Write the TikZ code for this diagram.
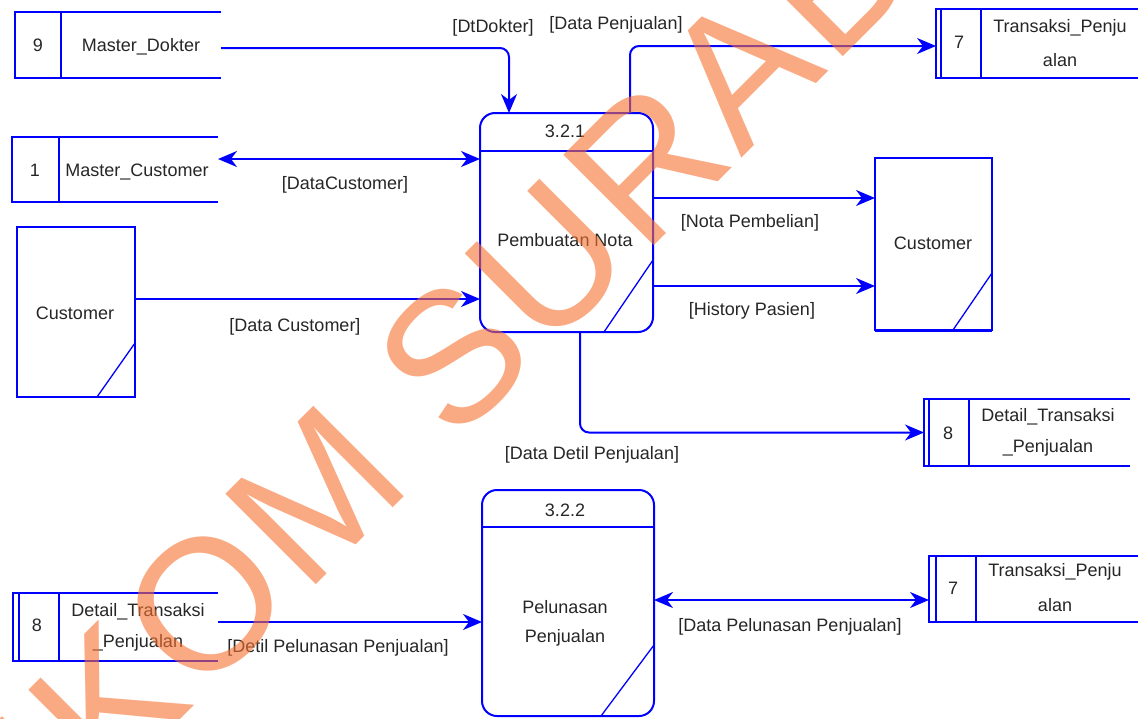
\documentclass[tikz,border=0pt]{standalone}
\usepackage{fontspec}
\setmainfont{Liberation Sans}
\newfontfamily\wmfont[LetterSpace=2.5]{Liberation Sans}
\usetikzlibrary{arrows.meta,calc}
\definecolor{dfd}{RGB}{0,0,255}
\definecolor{wmark}{RGB}{247,113,47}
\begin{document}
\begin{tikzpicture}[x=1pt,y=-1pt,
  every node/.style={font=\fontsize{18}{21}\selectfont, text=black!85, inner sep=0pt, outer sep=0pt},
  slot/.style={draw=none, minimum width=#1},
  edge/.style={draw=dfd, line width=2pt},
  thin edge/.style={draw=dfd, line width=1.3pt},
  procbox/.style={draw=dfd, line width=2pt, rounded corners=15pt},
  entbox/.style={draw=dfd, line width=2pt},
  tip/.tip={Stealth[length=19pt,width=16pt,inset=6pt]},
  flow/.style={edge, -tip},
  biflow/.style={edge, tip-tip},
  elbow/.style={rounded corners=9pt}
]
\useasboundingbox (0,0) rectangle (1138,718);

% ---------- processes ----------
\node[procbox, minimum width=173, minimum height=219] (p1) at (566.5,222.5) {};
\draw[edge] ($(p1.north west)+(0,38)$) -- ($(p1.north east)+(0,38)$);
\draw[thin edge] ($(p1.north east)+(0,147)$) -- ($(p1.south east)+(-49,0)$);
\node (p1id) at (565,131) {3.2.1};
\node (p1name) at (565,240) {Pembuatan Nota};

\node[procbox, minimum width=172, minimum height=226] (p2) at (568,603) {};
\draw[edge] ($(p2.north west)+(0,37)$) -- ($(p2.north east)+(0,37)$);
\draw[thin edge] ($(p2.north east)+(0,155)$) -- ($(p2.south east)+(-53,0)$);
\node (p2id) at (565,510) {3.2.2};
\node (p2a) at (565,607) {Pelunasan};
\node (p2b) at (565,638) {Penjualan};

% ---------- external entities ----------
\node[entbox, minimum width=118, minimum height=170] (cL) at (76,312) {};
\draw[thin edge] ($(cL.north east)+(0,116)$) -- ($(cL.south east)+(-38,0)$);
\node (cLt) at (75,313) {Customer};

\node[entbox, minimum width=117, minimum height=172] (cR) at (933.5,244) {};
\draw[thin edge] ($(cR.north east)+(0,115)$) -- ($(cR.south east)+(-39,0)$);
\draw[draw=dfd, line width=3.5pt] ($(cR.south west)+(0,0.5)$) -- ($(cR.south east)+(0,0.5)$);
\node (cRt) at (933,243) {Customer};

% ---------- data stores ----------
\node[slot=206, minimum height=66] (s9) at (118,45) {};
\draw[edge] (s9.north east) -- (s9.north west) -- (s9.south west) -- (s9.south east);
\draw[edge] ($(s9.north west)+(46,0)$) -- ($(s9.south west)+(46,0)$);
\node (s9n) at (38,45) {9};
\node (s9t) at (141,47) {Master\_Dokter};

\node[slot=206, minimum height=65] (s1) at (115,169.5) {};
\draw[edge] (s1.north east) -- (s1.north west) -- (s1.south west) -- (s1.south east);
\draw[edge] ($(s1.north west)+(47,0)$) -- ($(s1.south west)+(47,0)$);
\node (s1n) at (35,170) {1};
\node (s1t) at (137,172) {Master\_Customer};

\node[slot=209, minimum height=69] (s7a) at (1040.5,43.5) {};
\draw[edge] (s7a.north east) -- (s7a.north west) -- (s7a.south west) -- (s7a.south east);
\draw[edge] ($(s7a.north west)+(5,0)$) -- ($(s7a.south west)+(5,0)$);
\draw[edge] ($(s7a.north west)+(45,0)$) -- ($(s7a.south west)+(45,0)$);
\node (s7an) at (959,42) {7};
\node (s7at) at (1060,28) {Transaksi\_Penju};
\node (s7au) at (1060,60) {alan};

\node[slot=206, minimum height=67] (s8a) at (1027,432.5) {};
\draw[edge] (s8a.north east) -- (s8a.north west) -- (s8a.south west) -- (s8a.south east);
\draw[edge] ($(s8a.north west)+(5,0)$) -- ($(s8a.south west)+(5,0)$);
\draw[edge] ($(s8a.north west)+(45,0)$) -- ($(s8a.south west)+(45,0)$);
\node (s8an) at (948,433) {8};
\node (s8at) at (1048,417) {Detail\_Transaksi};
\node (s8au) at (1048,448) {\_Penjualan};

\node[slot=216, minimum height=66] (s7b) at (1037,589) {};
\draw[edge] (s7b.north east) -- (s7b.north west) -- (s7b.south west) -- (s7b.south east);
\draw[edge] ($(s7b.north west)+(7,0)$) -- ($(s7b.south west)+(7,0)$);
\draw[edge] ($(s7b.north west)+(47,0)$) -- ($(s7b.south west)+(47,0)$);
\node (s7bn) at (953,588) {7};
\node (s7bt) at (1055,572) {Transaksi\_Penju};
\node (s7bu) at (1055,605) {alan};

\node[slot=205, minimum height=68] (s8b) at (115.5,627) {};
\draw[edge] (s8b.north east) -- (s8b.north west) -- (s8b.south west) -- (s8b.south east);
\draw[edge] ($(s8b.north west)+(6,0)$) -- ($(s8b.south west)+(6,0)$);
\draw[edge] ($(s8b.north west)+(46,0)$) -- ($(s8b.south west)+(46,0)$);
\node (s8bn) at (37,625) {8};
\node (s8bt) at (138,612) {Detail\_Transaksi};
\node (s8bu) at (138,643) {\_Penjualan};

% ---------- data flows ----------
\draw[flow, elbow] ($(s9.east)+(0,3)$) -| ($(p1.north west)+(29,0)$);
\node (lDt) at (493,28) {[DtDokter]};

\draw[biflow] ($(s1.east)+(0,-10.5)$) -- ($(p1.north west)+(0,46)$);
\node (lDC) at (345,185) {[DataCustomer]};

\draw[flow] ($(cL.east)+(0,-13)$) -- ($(p1.north west)+(0,186)$);
\node (lDC2) at (295,327) {[Data Customer]};

\draw[flow, elbow] ($(p1.north west)+(150,0)$) |- ($(s7a.west)+(0,2.5)$);
\node (lDP) at (616,25) {[Data Penjualan]};

\draw[flow] ($(p1.north east)+(0,85)$) -- ($(cR.north west)+(0,40)$);
\node (lNP) at (750,223) {[Nota Pembelian]};

\draw[flow] ($(p1.north east)+(0,173)$) -- ($(cR.north west)+(0,128)$);
\node (lHP) at (752,311) {[History Pasien]};

\draw[flow, elbow] ($(p1.south west)+(100,0)$) |- (s8a.west);
\node (lDD) at (592,455) {[Data Detil Penjualan]};

\draw[flow] ($(s8b.east)+(0,-5)$) -- ($(p2.north west)+(0,132)$);
\node (lDPP) at (338,648) {[Detil Pelunasan Penjualan]};

\draw[biflow] ($(p2.north east)+(0,110)$) -- ($(s7b.west)+(0,11)$);
\node (lDPl) at (790,627) {[Data Pelunasan Penjualan]};

% ---------- watermark ----------
\begin{scope}
\clip (0,0) rectangle (1138,718);
\node[rotate=45, anchor=base west, text=wmark, opacity=0.6,
      font=\wmfont\fontsize{186}{186}\selectfont] (wm) at (-106,1006) {STIKOM SURABAYA};
\end{scope}
\end{tikzpicture}
\end{document}
